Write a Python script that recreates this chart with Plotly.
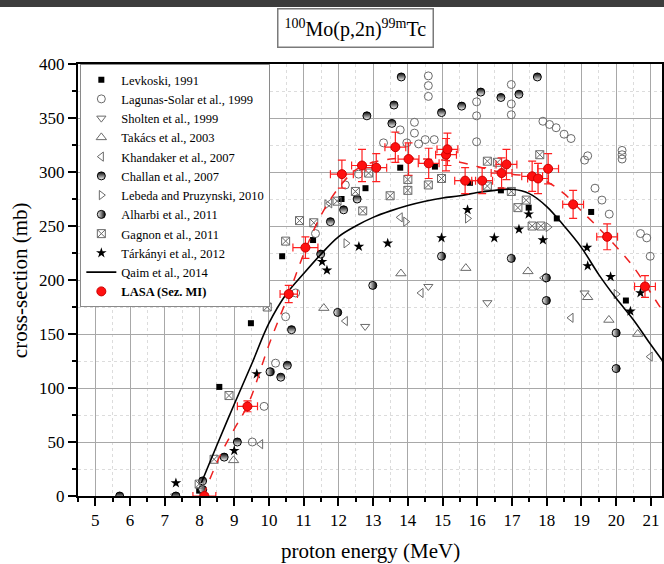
import plotly.graph_objects as go

# ---------------- data ----------------
levkoski_x = [7.99, 8.57, 9.48, 10.38, 11.27, 12.09, 12.78, 13.78, 14.78, 15.79, 16.68, 17.48, 18.29, 19.28, 20.28]
levkoski_y = [5, 101, 160, 222, 237, 275, 285, 304, 305, 290, 283, 267, 257, 263, 181]

lagunas_x = [9.52, 9.86, 10.05, 10.19, 10.48, 10.77, 11.34, 12.2, 12.58, 13.3, 13.78, 13.97, 14.19, 14.19,
             14.31, 14.5, 14.76, 14.59, 14.59, 14.59, 15.98, 15.98, 15.98, 16.98, 16.98, 16.98, 17.89,
             18.08, 18.27, 18.5, 18.7, 19.09, 19.18, 19.39, 19.59, 19.8, 20.17, 20.17, 20.17, 20.7, 20.88, 20.98]
lagunas_y = [50, 83, 115, 123, 166, 188, 243, 288, 298, 327, 339, 327, 346, 336,
             326, 330, 330, 389, 380, 370, 365, 352, 328, 381, 363, 353, 347,
             344, 341, 335, 331, 311, 315, 285, 274, 261, 320, 316, 312, 243, 239, 222]

sholten_x = [7.3, 12.77, 14.59, 16.29, 19.09]
sholten_y = [0, 157, 194, 179, 188]

takacs_x = [8.98, 11.58, 13.8, 15.67, 17.46, 19.18, 19.79, 20.62]
takacs_y = [33, 174, 206, 211, 208, 184, 163, 150]

khandaker_x = [9.76, 11.75, 12.2, 13.78, 14.38, 17.91, 18.7, 20.98]
khandaker_y = [48, 271, 162, 258, 188, 202, 165, 129]

challan_x = [5.7, 7.32, 8.09, 8.71, 9.09, 10.34, 10.53, 10.65, 11.49, 11.77, 12.15, 12.54, 12.82,
             13.54, 13.6, 13.81, 14.97, 15.55, 16.1, 16.68, 17.2, 17.73]
challan_y = [0, 0, 14, 36, 50, 110, 121, 154, 224, 254, 265, 275, 352,
             345, 362, 388, 355, 361, 374, 369, 372, 388]

lebeda_x = [11.67, 12.22, 13.94, 15.72, 18.04, 20.0]
lebeda_y = [270, 234, 254, 257, 249, 187]

alharbi_x = [8.09, 10.03, 11.98, 12.99, 14.97, 16.98, 17.99, 17.99, 20.0, 20.0]
alharbi_y = [6, 115, 170, 195, 222, 220, 202, 181, 151, 118]

gagnon_x = [7.99, 8.42, 8.85, 9.95, 10.48, 10.88, 11.29, 11.96, 12.49, 12.7, 12.87, 13.49, 14.0,
            14.0, 14.59, 14.97, 16.29, 16.29, 16.58, 16.98, 17.17, 17.41, 17.58, 17.8, 17.83]
gagnon_y = [11, 34, 93, 175, 236, 255, 253, 273, 282, 264, 299, 278, 293,
            283, 288, 294, 310, 287, 309, 282, 267, 274, 250, 316, 250]

tarkanyi_x = [7.32, 9.0, 9.65, 11.53, 11.67, 12.59, 13.42, 14.97, 15.72, 16.49, 17.2, 17.48, 17.89,
              19.16, 19.18, 19.84, 20.41, 20.7]
tarkanyi_y = [12, 42, 113, 217, 209, 231, 234, 239, 265, 239, 247, 261, 237,
              230, 213, 203, 171, 188]

qaim_x = [8.05, 8.5, 9.0, 9.5, 10.0, 10.5, 11.0, 11.5, 12.0, 12.5, 13.0, 13.5, 14.0, 14.5, 15.0,
          15.5, 16.0, 16.5, 17.0, 17.5, 18.0, 18.5, 19.0, 19.5, 20.0, 20.5, 21.0, 21.5]
qaim_y = [12, 47, 85, 122, 160, 187, 206, 224, 240, 250, 258, 264, 269, 273, 276,
          278, 281, 283, 284, 280, 268, 250, 230, 205, 183, 163, 140, 118]

lasa_x = [8.14, 9.38, 10.57, 11.05, 12.1, 12.68, 13.09, 13.64, 14.02, 14.6, 15.1, 15.14, 15.65,
          16.14, 16.7, 16.84, 17.58, 17.75, 18.04, 18.76, 19.74, 20.83]
lasa_y = [0, 83, 187, 230, 298, 306, 304, 323, 312, 308, 316, 321, 292,
          292, 299, 307, 296, 294, 303, 270, 240, 194]
lasa_xerr = [0.33, 0.29, 0.25, 0.36, 0.33, 0.3, 0.3, 0.3, 0.3, 0.3, 0.3, 0.3, 0.3,
             0.3, 0.3, 0.3, 0.3, 0.3, 0.3, 0.3, 0.3, 0.3]
lasa_yerr = [2, 5, 8, 10, 13, 15, 13, 14, 15, 14, 15, 15, 12,
             12, 14, 14, 14, 14, 14, 13, 12, 10]

lasa_fit_x = [8.1, 8.6, 9.0, 9.4, 10.0, 10.57, 11.05, 11.5, 12.0, 12.5, 13.0, 13.5, 14.0, 14.5,
              15.0, 15.5, 16.0, 16.5, 17.0, 17.5, 18.0, 18.5, 19.0, 19.5, 20.0, 20.5, 21.0, 21.4]
lasa_fit_y = [0, 38, 62, 85, 140, 187, 228, 260, 285, 302, 309, 312, 313, 312,
              311, 309, 305, 301, 298, 296, 291, 280, 264, 248, 231, 212, 188, 168]

x_ticks = list(range(5, 22))
y_ticks = list(range(0, 401, 50))

# ---------------- figure ----------------
SERIF = "Liberation Serif"
GRAY = "#6a6a6a"

fig = go.Figure()

def add_pts(name, xs, ys, marker):
    fig.add_trace(go.Scatter(x=xs, y=ys, mode="markers", name=name, marker=marker))

add_pts("Levkoski, 1991", levkoski_x, levkoski_y,
        dict(symbol="square", color="black", size=6))
add_pts("Lagunas-Solar et al., 1999", lagunas_x, lagunas_y,
        dict(symbol="circle-open", color=GRAY, size=8, line=dict(width=1)))
add_pts("Sholten et al., 1999", sholten_x, sholten_y,
        dict(symbol="triangle-down-open", color=GRAY, size=8, line=dict(width=1)))
add_pts("Takács et al., 2003", takacs_x, takacs_y,
        dict(symbol="triangle-up-open", color=GRAY, size=9, line=dict(width=1)))
add_pts("Khandaker et al., 2007", khandaker_x, khandaker_y,
        dict(symbol="triangle-left-open", color=GRAY, size=8, line=dict(width=1)))
add_pts("Challan et al., 2007", challan_x, challan_y,
        dict(symbol="circle", color="black", size=8,
             gradient=dict(type="vertical", color="white"), line=dict(color="black", width=1)))
add_pts("Lebeda and Pruzynski, 2010", lebeda_x, lebeda_y,
        dict(symbol="triangle-right-open", color=GRAY, size=8, line=dict(width=1)))
add_pts("Alharbi et al., 2011", alharbi_x, alharbi_y,
        dict(symbol="circle", color="white", size=8,
             gradient=dict(type="horizontal", color="black"), line=dict(color="black", width=1)))
add_pts("Gagnon et al., 2011", gagnon_x, gagnon_y,
        dict(symbol="square-x-open", color=GRAY, size=8, line=dict(width=1)))
add_pts("Tárkányi et al., 2012", tarkanyi_x, tarkanyi_y,
        dict(symbol="star", color="black", size=8))

fig.add_trace(go.Scatter(x=qaim_x, y=qaim_y, mode="lines", name="Qaim et al., 2014",
                         line=dict(color="black", width=1.6, shape="spline")))

fig.add_trace(go.Scatter(x=lasa_fit_x, y=lasa_fit_y, mode="lines", showlegend=False,
                         line=dict(color="#ee2222", width=1.5, dash="dash", shape="spline"),
                         hoverinfo="skip"))

fig.add_trace(go.Scatter(
    x=lasa_x, y=lasa_y, mode="markers", name="<b>LASA (Sez. MI)</b>",
    marker=dict(symbol="circle", color="#ff1010", size=9, line=dict(color="#cc0000", width=1)),
    error_x=dict(type="data", array=lasa_xerr, color="#ff2020", thickness=1.2, width=4),
    error_y=dict(type="data", array=lasa_yerr, color="#ff2020", thickness=1.2, width=4),
))

axis_common = dict(
    showline=True, linecolor="black", linewidth=2, mirror=True,
    ticks="outside", tickcolor="black", tickwidth=1.5, ticklen=8,
    showgrid=True, gridcolor="#a8a8a8", gridwidth=1, zeroline=False,
    tickfont=dict(family=SERIF, size=17, color="black"),
)

fig.update_layout(
    width=664, height=564,
    margin=dict(l=78, r=0, t=64, b=68),
    paper_bgcolor="white", plot_bgcolor="white",
    font=dict(family=SERIF, color="black"),
    xaxis=dict(range=[4.5, 21.32], tickmode="array", tickvals=x_ticks,
               ticktext=[str(v) for v in x_ticks],
               minor=dict(dtick=0.5, tick0=0, showgrid=True, gridcolor="#dcdcdc", griddash="dot",
                          ticks="outside", ticklen=4, tickcolor="black"),
               **axis_common),
    yaxis=dict(range=[0, 400], tickmode="array", tickvals=y_ticks,
               ticktext=[str(v) for v in y_ticks],
               minor=dict(dtick=25, tick0=0, showgrid=True, gridcolor="#dcdcdc", griddash="dot",
                          ticks="outside", ticklen=4, tickcolor="black"),
               **axis_common),
    legend=dict(x=0.004, y=1.0, xanchor="left", yanchor="top",
                bgcolor="white", bordercolor="#8a8a8a", borderwidth=1,
                font=dict(family=SERIF, size=12.5, color="black"),
                tracegroupgap=0),
    showlegend=True,
)

# axis titles
fig.add_annotation(text="proton energy (MeV)", xref="paper", yref="paper",
                   x=0.5, y=-0.127, showarrow=False, xanchor="center", yanchor="middle",
                   font=dict(family=SERIF, size=21, color="black"))
fig.add_annotation(text="cross-section (mb)", xref="paper", yref="paper",
                   x=-0.099, y=0.5, showarrow=False, textangle=-90,
                   xanchor="center", yanchor="middle",
                   font=dict(family=SERIF, size=21, color="black"))

# boxed title
fig.add_annotation(text="<sup>100</sup>Mo(p,2n)<sup>99m</sup>Tc", xref="paper", yref="paper",
                   x=0.4753, y=1.0822, showarrow=False, xanchor="center", yanchor="middle",
                   font=dict(family=SERIF, size=20, color="black"),
                   bordercolor="#7a7a7a", borderwidth=1.5, borderpad=6, bgcolor="white")

# dark strip at the top of the picture
fig.add_shape(type="rect", xref="paper", yref="paper",
              x0=-0.2, x1=1.1, y0=1 + (64 - 7) / 432, y1=1.2,
              fillcolor="#3d3d3d", line=dict(width=0), layer="above")

fig.write_html("out.html")
